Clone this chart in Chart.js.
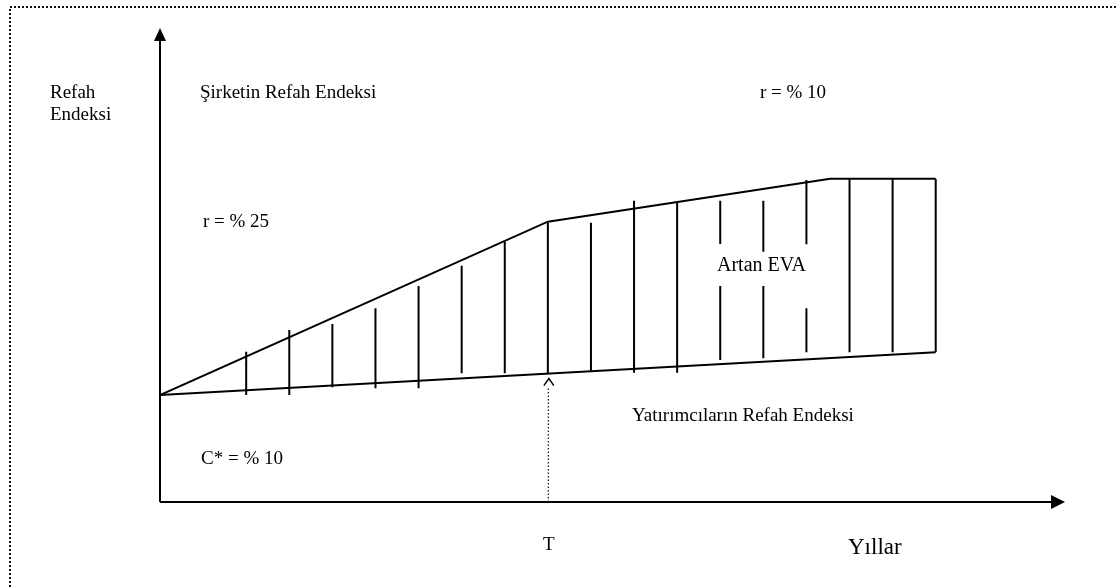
<!DOCTYPE html>
<html>
<head>
<meta charset="utf-8">
<title>Refah Endeksi</title>
<script src="https://cdn.jsdelivr.net/npm/chart.js@4/dist/chart.umd.min.js"></script>
<style>
  html, body { margin: 0; padding: 0; background: #fff; }
  #wrap { width: 1117px; height: 587px; }
</style>
</head>
<body>
<div id="wrap"><canvas id="evaChart" width="1117" height="587"></canvas></div>
<script>
// Years axis runs 0..21, T is at year 9
const xMax = 21;
const yMax = 44.3;
const T_YEAR = 9;

// Şirketin refah endeksi (upper line)
const firmX = [0, 9, 15.55, 18];
const firmY = [10, 26.2, 30.2, 30.2];

// Yatırımcıların refah endeksi (lower line)
const investorX = [0, 18];
const investorY = [10, 14.0];

// Hatch lines for "Artan EVA": [year, top, bottom]
const hatchSegments = [
    [2, 14.05, 10.0],
    [3, 16.07, 10.0],
    [4, 16.64, 10.72],
    [5, 18.1, 10.63],
    [6, 20.19, 10.63],
    [7, 22.08, 12.03],
    [8, 24.33, 12.03],
    [9, 26.1, 12.03],
    [10, 26.1, 12.27],
    [11, 28.16, 12.08],
    [12, 28.07, 12.08],
    [13, 28.16, 24.11],
    [13, 20.19, 13.27],
    [14, 28.16, 23.39],
    [14, 20.19, 13.43],
    [15, 30.09, 24.08],
    [15, 18.1, 13.99],
    [16, 30.16, 13.99],
    [17, 30.16, 13.99],
    [18, 30.19, 14.02]
];

function toPoints(xs, ys) {
    return xs.map((x, i) => ({ x: x, y: ys[i] }));
}

function lineSet(points, width) {
    return {
        data: points,
        showLine: true,
        borderColor: '#000',
        borderWidth: width,
        pointRadius: 0,
        fill: false,
        tension: 0
    };
}

const datasets = [
    lineSet(toPoints(firmX, firmY), 2),
    lineSet(toPoints(investorX, investorY), 2)
];
hatchSegments.forEach(seg => {
    datasets.push(lineSet([{ x: seg[0], y: seg[1] }, { x: seg[0], y: seg[2] }], 2));
});

const SERIF = '"Liberation Serif", "Times New Roman", serif';

// axes, arrows, frame and the texts
const diagramPlugin = {
    id: 'diagram',
    afterDraw(chart) {
        const ctx = chart.ctx;
        const xs = chart.scales.x;
        const ys = chart.scales.y;
        const x0 = xs.getPixelForValue(0);
        const y0 = ys.getPixelForValue(0);
        const xEnd = xs.getPixelForValue(xMax);
        const yTop = ys.getPixelForValue(yMax);

        ctx.save();

        // dotted frame (only top and left edges fall inside the picture)
        ctx.strokeStyle = '#111';
        ctx.lineWidth = 2;
        ctx.setLineDash([2, 2]);
        ctx.beginPath();
        ctx.moveTo(10, chart.height);
        ctx.lineTo(10, 7);
        ctx.lineTo(chart.width, 7);
        ctx.stroke();
        ctx.setLineDash([]);

        // axes
        ctx.strokeStyle = '#000';
        ctx.fillStyle = '#000';
        ctx.lineWidth = 2;
        ctx.beginPath();
        ctx.moveTo(x0, y0);
        ctx.lineTo(xEnd - 10, y0);
        ctx.moveTo(x0, y0);
        ctx.lineTo(x0, yTop + 10);
        ctx.stroke();

        // arrow heads
        ctx.beginPath();
        ctx.moveTo(xEnd, y0);
        ctx.lineTo(xEnd - 14, y0 - 7);
        ctx.lineTo(xEnd - 14, y0 + 7);
        ctx.closePath();
        ctx.fill();
        ctx.beginPath();
        ctx.moveTo(x0, yTop);
        ctx.lineTo(x0 - 6, yTop + 13);
        ctx.lineTo(x0 + 6, yTop + 13);
        ctx.closePath();
        ctx.fill();

        // T marker: caret and dotted drop line
        const tx = xs.getPixelForValue(T_YEAR) + 1;
        const caretTop = ys.getPixelForValue(investorY[0] + (investorY[1] - investorY[0]) * T_YEAR / investorX[1]) + 5;
        ctx.lineWidth = 1.5;
        ctx.beginPath();
        ctx.moveTo(tx - 5, caretTop + 7);
        ctx.lineTo(tx, caretTop);
        ctx.lineTo(tx + 5, caretTop + 7);
        ctx.stroke();
        ctx.strokeStyle = '#222';
        ctx.lineWidth = 1.3;
        ctx.setLineDash([1.5, 2]);
        ctx.beginPath();
        ctx.moveTo(tx - 0.5, caretTop + 10);
        ctx.lineTo(tx - 0.5, y0);
        ctx.stroke();
        ctx.setLineDash([]);

        // texts
        ctx.fillStyle = '#000';
        ctx.textBaseline = 'alphabetic';
        ctx.textAlign = 'left';
        ctx.font = '19px ' + SERIF;
        ctx.fillText('Refah', 50, 98);
        ctx.fillText('Endeksi', 50, 120);
        ctx.fillText('Şirketin Refah Endeksi', 200, 98);
        ctx.fillText('r = % 10', 760, 98);
        ctx.fillText('r = % 25', 203, 227);
        ctx.fillText('Yatırımcıların Refah Endeksi', 632, 421);
        ctx.fillText('C* = % 10', 201, 464);
        ctx.font = '20px ' + SERIF;
        ctx.fillText('Artan EVA', 717, 271);
        ctx.font = '19px ' + SERIF;
        ctx.textAlign = 'center';
        ctx.fillText('T', tx, 550);
        ctx.font = '23px ' + SERIF;
        ctx.textAlign = 'left';
        ctx.fillText('Yıllar', 848, 554);

        ctx.restore();
    }
};

function initChart() {
    const ctx = document.getElementById('evaChart');
    new Chart(ctx, {
        type: 'scatter',
        data: { datasets: datasets },
        options: {
            responsive: false,
            animation: false,
            events: [],
            layout: {
                padding: { left: 160, right: 52, top: 28, bottom: 85 }
            },
            scales: {
                x: { type: 'linear', min: 0, max: xMax, display: false },
                y: { type: 'linear', min: 0, max: yMax, display: false }
            },
            plugins: {
                legend: { display: false },
                tooltip: { enabled: false }
            }
        },
        plugins: [diagramPlugin]
    });
}

initChart();
</script>
</body>
</html>
